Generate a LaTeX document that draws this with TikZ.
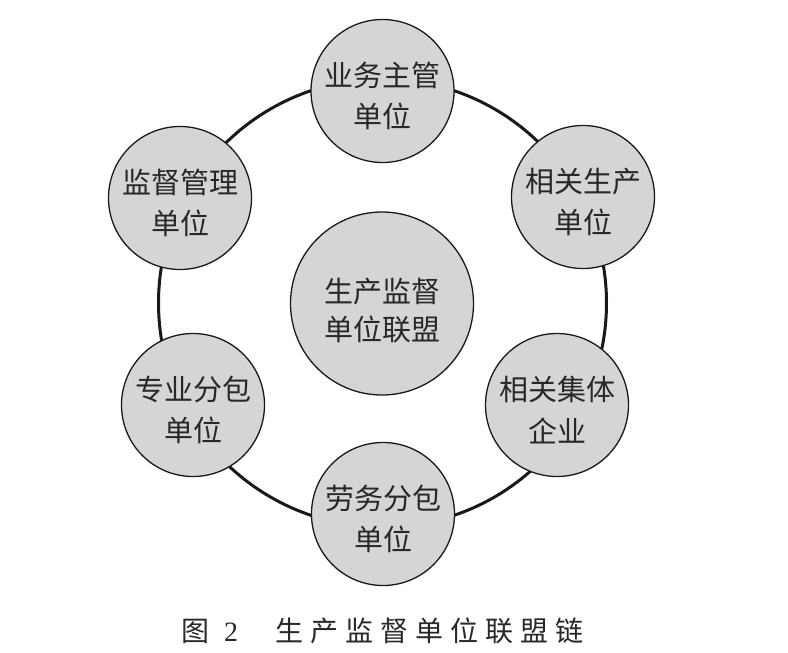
\documentclass[tikz,border=0pt]{standalone}
\usepackage{fontspec}
\setmainfont{Liberation Serif}
\newfontfamily\cjk{Noto Sans CJK SC}
\newfontfamily\capcjk[LetterSpace=25]{Noto Sans CJK SC}
\definecolor{cfill}{RGB}{212,213,215}
\definecolor{ctext}{RGB}{40,40,40}
\definecolor{cline}{RGB}{25,25,25}
\begin{document}
\begin{tikzpicture}[x=1pt,y=-1pt,
  unit/.style={circle, draw=cline, line width=1.3pt, fill=cfill, minimum size=143pt,
    inner sep=0pt,
    label={[inner sep=0pt, align=center, text=ctext, yshift=-5pt,
      font=\cjk\fontsize{29}{41.5}\selectfont]center:{#1}}},
  hub/.style={circle, draw=cline, line width=1.3pt, fill=cfill, minimum size=183pt,
    inner sep=0pt,
    label={[inner sep=0pt, align=center, text=ctext, yshift=-7pt,
      font=\cjk\fontsize{29}{38.5}\selectfont]center:{#1}}},
  ringstyle/.style={circle, draw=cline, line width=3pt, minimum size=448pt, inner sep=0pt}
]
\useasboundingbox (0,0) rectangle (788,653);
\fill[white] (0,0) rectangle (788,653);
\node[ringstyle] (ring) at (382.5,303) {};
\node[hub={生产监督\\单位联盟}]  (hubc) at (382,303.5) {};
\node[unit={业务主管\\单位}] (top) at (382.5,91)  {};
\node[unit={监督管理\\单位}] (ul)  at (180,198)   {};
\node[unit={相关生产\\单位}] (ur)  at (583,197)   {};
\node[unit={专业分包\\单位}] (ll)  at (193,405)   {};
\node[unit={相关集体\\企业}] (lr)  at (557,405)   {};
\node[unit={劳务分包\\单位}] (bot) at (383,514)   {};
\node[anchor=west, inner sep=0pt, text=ctext, font=\fontsize{28}{32}\selectfont] (cap) at (181,630.5)
  {{\cjk 图}\hspace{15pt}2\hspace{37pt}{\capcjk 生产监督单位联盟链}};
\end{tikzpicture}
\end{document}
